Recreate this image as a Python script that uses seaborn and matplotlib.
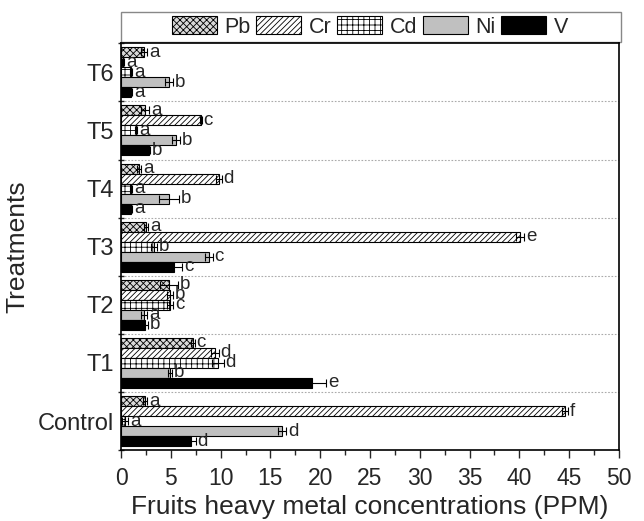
import numpy as np
import pandas as pd
import matplotlib
matplotlib.use("Agg")
import matplotlib.pyplot as plt
import seaborn as sns
from matplotlib.patches import Patch, Rectangle
from matplotlib.ticker import MultipleLocator

# data (top group first)
treatments = ['T6', 'T5', 'T4', 'T3', 'T2', 'T1', 'Control']
metals = ['Pb', 'Cr', 'Cd', 'Ni', 'V']

Pb = [2.3, 2.4, 1.8, 2.5, 4.8, 7.2, 2.4]
Cr = [0.2, 8.0, 9.8, 40.1, 4.9, 9.4, 44.6]
Cd = [1.0, 1.5, 1.0, 3.3, 4.9, 9.7, 0.4]
Ni = [4.8, 5.5, 4.8, 8.8, 2.3, 4.9, 16.2]
V = [1.0, 2.8, 1.0, 5.3, 2.4, 19.2, 7.0]

Pb_err = [0.3, 0.4, 0.2, 0.2, 0.9, 0.2, 0.2]
Cr_err = [0.1, 0.1, 0.3, 0.4, 0.3, 0.4, 0.3]
Cd_err = [0.1, 0.1, 0.1, 0.3, 0.3, 0.6, 0.3]
Ni_err = [0.4, 0.4, 1.0, 0.4, 0.3, 0.2, 0.4]
V_err = [0.1, 0.1, 0.1, 0.8, 0.3, 1.4, 0.5]

Pb_let = ['a', 'a', 'a', 'a', 'b', 'c', 'a']
Cr_let = ['a', 'c', 'd', 'e', 'b', 'd', 'f']
Cd_let = ['a', 'a', 'a', 'b', 'c', 'd', 'a']
Ni_let = ['b', 'b', 'b', 'c', 'a', 'b', 'd']
V_let = ['a', 'b', 'a', 'c', 'b', 'e', 'd']

vals = {'Pb': Pb, 'Cr': Cr, 'Cd': Cd, 'Ni': Ni, 'V': V}
errs = {'Pb': Pb_err, 'Cr': Cr_err, 'Cd': Cd_err, 'Ni': Ni_err, 'V': V_err}
lets = {'Pb': Pb_let, 'Cr': Cr_let, 'Cd': Cd_let, 'Ni': Ni_let, 'V': V_let}

rows = []
for m in metals:
    for i, t in enumerate(treatments):
        rows.append({'Treatment': t, 'Metal': m, 'Value': vals[m][i],
                     'Err': errs[m][i], 'Letter': lets[m][i]})
df = pd.DataFrame(rows)

sns.set_style("ticks")
plt.rcParams['font.family'] = ['Liberation Sans', 'DejaVu Sans']
plt.rcParams['hatch.linewidth'] = 0.6

styles = {
    'Pb': dict(fc='#d9d9d9', hatch='xxxxx'),
    'Cr': dict(fc='white', hatch='//////'),
    'Cd': dict(fc='white', hatch='+++'),
    'Ni': dict(fc='#c0c0c0', hatch=''),
    'V': dict(fc='black', hatch=''),
}

fig = plt.figure(figsize=(6.44, 5.21), dpi=100)
ax = fig.add_axes([0.188, 0.136, 0.773, 0.781])

sns.barplot(data=df, y='Treatment', x='Value', hue='Metal', order=treatments,
            hue_order=metals, orient='h', width=0.86, errorbar=None,
            palette=['white'] * 5, edgecolor='black', linewidth=0.8,
            legend=False, ax=ax)

# style bars and add error bars / letters, container order follows hue_order
for m, cont in zip(metals, ax.containers):
    sub = df[df['Metal'] == m].set_index('Treatment').loc[treatments]
    ys = []
    for bar in cont:
        bar.set_facecolor(styles[m]['fc'])
        bar.set_hatch(styles[m]['hatch'])
        bar.set_edgecolor('black')
        ys.append(bar.get_y() + bar.get_height() / 2)
    ax.errorbar(sub['Value'].values, ys, xerr=sub['Err'].values, fmt='none',
                ecolor='black', elinewidth=0.8, capsize=3, capthick=0.8)
    for y, v, e, l in zip(ys, sub['Value'].values, sub['Err'].values, sub['Letter'].values):
        ax.text(v + e + 0.2, y, l, va='center', ha='left', fontsize=13.5)

ax.set_xlim(0, 50)
ax.set_ylim(len(treatments) - 0.5, -0.5)
ax.xaxis.set_major_locator(MultipleLocator(5))
ax.xaxis.set_minor_locator(MultipleLocator(2.5))
ax.tick_params(axis='x', which='major', length=6, width=1, labelsize=16.5,
               direction='out', pad=6)
ax.tick_params(axis='x', which='minor', length=3.5, width=1, direction='out')

# boundaries get ticks, centres get labels
bounds = np.arange(len(treatments) + 1) - 0.5
ax.set_yticks(bounds)
ax.set_yticklabels([])
ax.tick_params(axis='y', which='major', length=5, width=1, direction='inout')
ax.set_yticks(np.arange(len(treatments)), minor=True)
ax.set_yticklabels(treatments, minor=True)
ax.tick_params(axis='y', which='minor', length=0, labelsize=17, pad=5)

for b in bounds[1:-1]:
    ax.axhline(b, color='#aaaaaa', lw=0.8, ls=(0, (1.5, 1.5)), zorder=0)

for s in ax.spines.values():
    s.set_linewidth(1.2)
    s.set_color('black')

ax.set_xlabel('Fruits heavy metal concentrations (PPM)', fontsize=19, labelpad=4)
ax.set_ylabel('Treatments', fontsize=19, labelpad=6)

# legend box above the axes
ax.add_patch(Rectangle((0, 1.003), 1.005, 0.073, transform=ax.transAxes,
                       fill=False, edgecolor='#888888', lw=1, clip_on=False))
handles = [Patch(facecolor=styles[m]['fc'], hatch=styles[m]['hatch'],
                 edgecolor='black', linewidth=0.8, label=m) for m in metals]
ax.legend(handles=handles, loc='center', bbox_to_anchor=(0.5, 1.04), ncol=5,
          frameon=False, fontsize=15.5, handlelength=2.1, handleheight=0.9,
          handletextpad=0.35, columnspacing=0.25, borderaxespad=0)

fig.savefig('out.png', dpi=100)
